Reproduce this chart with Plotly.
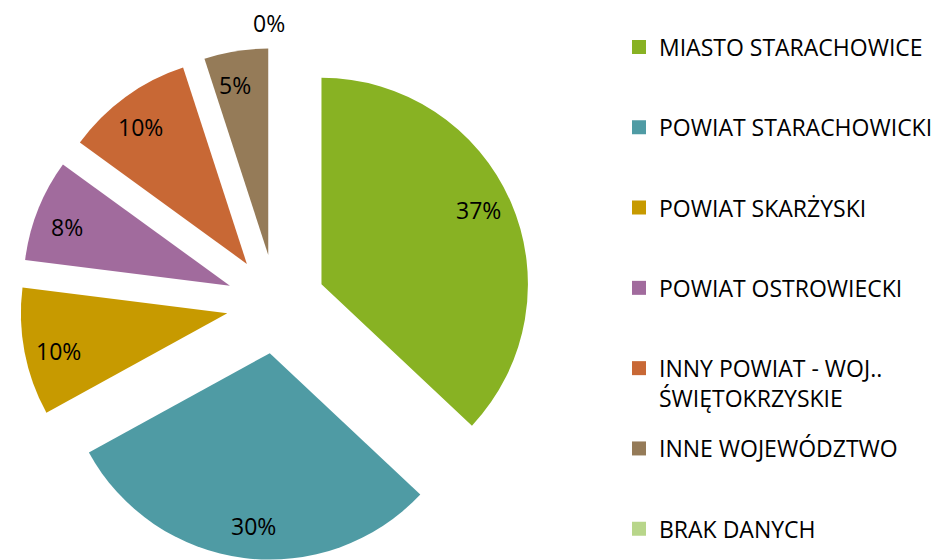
import math
import plotly.graph_objects as go

categories = [
    "MIASTO STARACHOWICE",
    "POWIAT STARACHOWICKI",
    "POWIAT SKARŻYSKI",
    "POWIAT OSTROWIECKI",
    "INNY POWIAT - WOJ..<br>ŚWIĘTOKRZYSKIE",
    "INNE WOJEWÓDZTWO",
    "BRAK DANYCH",
]
values = [37, 30, 10, 8, 10, 5, 0]
colors = ["#88B223", "#4F9BA4", "#C79A00", "#A16B9D", "#C86835", "#957B58", "#B8D68A"]

FONT = "Open Sans"
FS = 23
PULL = 0.24
W, H = 944, 560

# pie box (pixels): center and half size
CX, CY, HALF = 268, 296, 256
R = HALF / (1 + PULL)
dom_x = [(CX - HALF) / W, (CX + HALF) / W]
dom_y = [(H - CY - HALF) / H, (H - CY + HALF) / H]

fig = go.Figure()

fig.add_trace(go.Pie(
    labels=[c.replace("<br>", " ") for c in categories],
    values=values,
    sort=False,
    direction="clockwise",
    rotation=0,
    pull=[PULL] * len(values),
    marker=dict(colors=colors, line=dict(width=0)),
    textinfo="none",
    domain=dict(x=dom_x, y=dom_y),
    showlegend=False,
    hoverinfo="label+percent",
))

# data labels along each slice's bisector (inside for non-zero slices, outside for zero)
total = sum(values)
annotations = []
cum = 0
for v in values:
    ang = math.radians((cum + v / 2) / total * 360 - 1.5)
    rr = PULL + (0.84 if v > 0 else 1.12)
    px = CX + rr * R * math.sin(ang)
    py = CY - rr * R * math.cos(ang)
    annotations.append(dict(
        x=px / W, y=1 - py / H, xref="paper", yref="paper",
        text=f"{v}%", showarrow=False,
        xanchor="center", yanchor="middle",
        font=dict(family=FONT, size=FS, color="#000000"),
    ))
    cum += v

# legend entries
for i, (c, col) in enumerate(zip(categories, colors)):
    n = c.count("<br>") + 1
    pad = 0 if i == len(categories) - 1 else 2 - n
    fig.add_trace(go.Scatterpolar(
        r=[None], theta=[None], mode="markers",
        marker=dict(symbol="square", size=14, color=col),
        name=c + "<br> " * pad,
        legendgroup=f"g{i}",
        showlegend=True,
        hoverinfo="skip",
    ))

fig.update_layout(
    width=W,
    height=H,
    margin=dict(l=0, r=0, t=0, b=0, autoexpand=False),
    paper_bgcolor="white",
    plot_bgcolor="white",
    font=dict(family=FONT, size=FS, color="#000000"),
    annotations=annotations,
    polar=dict(
        domain=dict(x=dom_x, y=dom_y),
        bgcolor="rgba(0,0,0,0)",
        radialaxis=dict(visible=False, showgrid=False),
        angularaxis=dict(visible=False, showgrid=False),
    ),
    legend=dict(
        x=611 / W, xanchor="left",
        y=1 - 17.5 / H, yanchor="top",
        font=dict(family=FONT, size=FS, color="#000000"),
        valign="top",
        traceorder="grouped",
        tracegroupgap=17.5,
        bgcolor="rgba(0,0,0,0)",
        itemclick=False,
        itemdoubleclick=False,
    ),
)

fig.write_html("out.html")
